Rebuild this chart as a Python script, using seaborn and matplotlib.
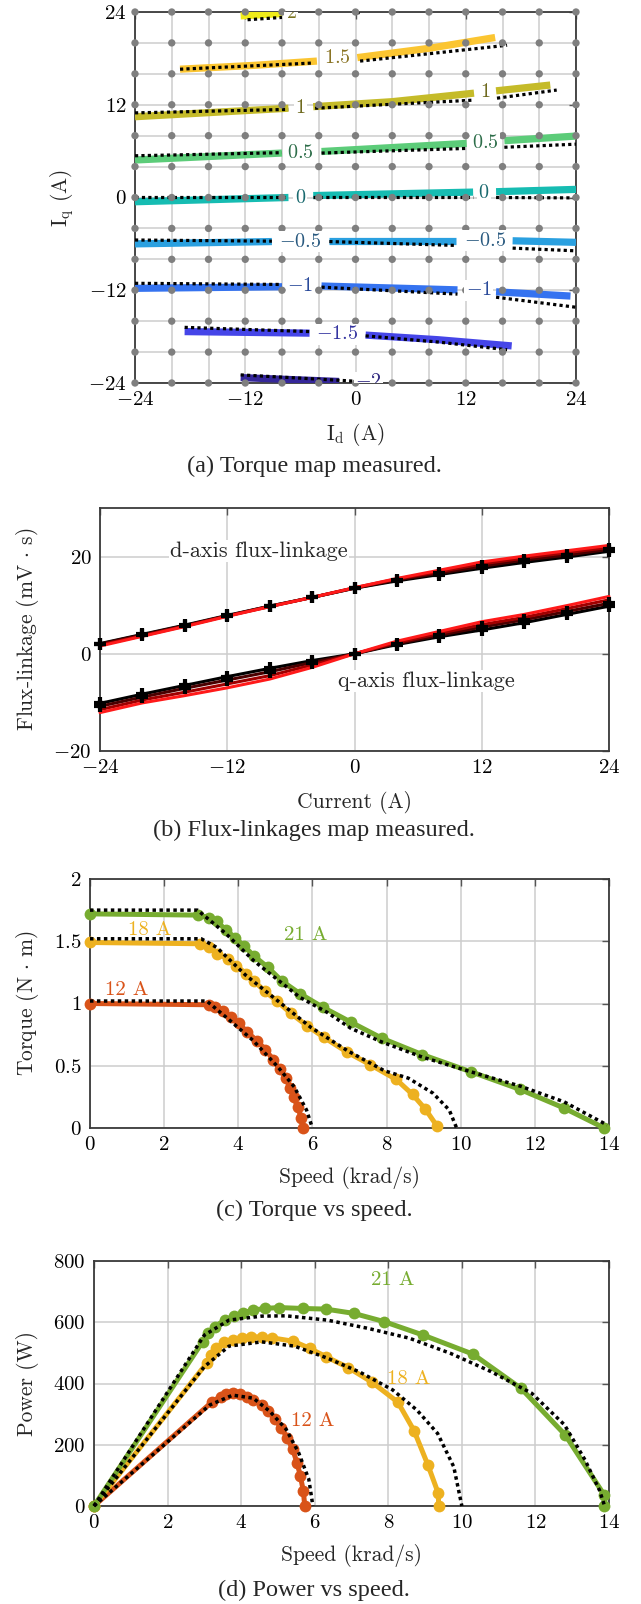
"""
Motor characterisation figure: torque map, flux-linkages, torque and power vs speed.
"""
import numpy as np
import matplotlib
matplotlib.use('Agg')
import matplotlib.pyplot as plt
from matplotlib.ticker import FuncFormatter
import seaborn as sns

# ---------------- (a) torque map: contour segments (Id, Iq) in A ----------------
grid_currents = [-24, -20, -16, -12, -8, -4, 0, 4, 8, 12, 16, 20, 24]

lvl_2_meas = [[(-12.5, 23.5), (-8.0, 23.8)]]
lvl_2_model = [[(-11.75, 23.0), (-8.0, 23.3)], [(0.1, 23.85), (0.5, 23.95)]]
lvl_2_text = [(-7.0, 23.9)]

lvl_15_meas = [[(-19.1, 16.6), (-11.0, 17.1), (-4.2, 17.65)],
               [(0.2, 18.1), (8.0, 19.3), (15.2, 20.7)]]
lvl_15_model = [[(-19.1, 16.6), (-4.6, 17.4)], [(0.5, 17.65), (8.0, 18.6), (16.5, 19.7)]]
lvl_15_text = [(-2.0, 18.0)]

lvl_1_meas = [[(-24, 10.45), (-7.3, 11.55)], [(-4.6, 11.75), (4.0, 12.4), (12.9, 13.5)],
              [(15.3, 13.8), (21.2, 14.55)]]
lvl_1_model = [[(-24, 10.95), (-7.3, 11.4)], [(-4.4, 11.55), (12.9, 12.6)],
               [(15.4, 12.85), (21.9, 13.9)]]
lvl_1_text = [(-6.0, 11.6), (14.1, 13.6)]

lvl_05_meas = [[(-24, 4.85), (-8.0, 5.75)], [(-3.7, 5.95), (12.1, 7.0)], [(16.2, 7.35), (24, 7.95)]]
lvl_05_model = [[(-24, 5.4), (-8.0, 5.8)], [(-3.7, 5.75), (12.1, 6.35)], [(16.2, 6.5), (24, 6.9)]]
lvl_05_text = [(-6.0, 5.7), (14.1, 7.1)]

lvl_0_meas = [[(-24, -0.55), (-7.3, 0.0)], [(-4.6, 0.25), (12.8, 0.7)], [(15.3, 0.75), (24, 1.05)]]
lvl_0_model = [[(-24, 0.05), (-7.3, 0.05)], [(-4.6, 0.05), (12.8, 0.05)], [(15.3, 0.0), (24, -0.05)]]
lvl_0_text = [(-6.0, -0.1), (14.0, 0.6)]

lvl_m05_meas = [[(-24, -6.0), (-9.1, -5.7)], [(-2.85, -5.6), (10.9, -5.6)], [(17.1, -5.6), (24, -5.8)]]
lvl_m05_model = [[(-24, -5.5), (-9.1, -5.65)], [(-2.85, -5.7), (10.9, -6.2)], [(17.1, -6.55), (24, -6.9)]]
lvl_m05_text = [(-6.0, -5.7), (14.1, -5.6)]

lvl_m1_meas = [[(-24, -11.75), (-8.0, -11.55)], [(-3.7, -11.45), (11.1, -11.95)],
               [(15.3, -12.2), (23.4, -12.75)]]
lvl_m1_model = [[(-24, -11.1), (-8.0, -11.25)], [(-3.7, -11.6), (11.1, -12.5)],
                [(15.3, -12.9), (24, -14.2)]]
lvl_m1_text = [(-6.0, -11.4), (13.4, -12.0)]

lvl_m15_meas = [[(-18.6, -17.35), (-5.0, -17.55)], [(1.1, -17.8), (9.0, -18.4), (17.0, -19.2)]]
lvl_m15_model = [[(-18.6, -16.8), (-5.0, -17.35)], [(1.1, -17.9), (9.0, -18.7), (16.5, -19.7)]]
lvl_m15_text = [(-2.0, -17.7)]

lvl_m2_meas = [[(-12.5, -23.3), (-1.8, -23.8)]]
lvl_m2_model = [[(-12.5, -22.95), (0.5, -23.8)]]
lvl_m2_text = [(1.4, -23.9)]

level_labels = ['$2$', '$1.5$', '$1$', '$0.5$', '$0$', '$-0.5$', '$-1$', '$-1.5$', '$-2$']
level_colors = ['#f0ec1a', '#fbc531', '#c5bb29', '#5ccc79', '#16bcb2',
                '#2aa0e0', '#3573f0', '#4545e8', '#35279a']
label_colors = ['#7a7420', '#8a7424', '#6f6a1f', '#2e6e4a', '#1a6a6f',
                '#2a5a80', '#2a4a9a', '#3535a0', '#302880']

# ---------------- (b) flux-linkages (mV s) vs current ----------------
current_b = [-24, -20, -16, -12, -8, -4, 0, 4, 8, 12, 16, 20, 24]
d_black = [2.1, 4.0, 5.9, 7.9, 9.8, 11.6, 13.5, 15.0, 16.3, 17.6, 18.8, 19.9, 21.1]
d_dark = [2.0, 3.9, 5.8, 7.8, 9.8, 11.6, 13.5, 15.2, 16.6, 18.0, 19.3, 20.3, 21.5]
d_mid = [1.8, 3.7, 5.7, 7.8, 9.7, 11.6, 13.6, 15.4, 16.9, 18.5, 19.7, 20.8, 21.9]
d_red = [1.6, 3.6, 5.6, 7.7, 9.7, 11.6, 13.6, 15.5, 17.2, 18.9, 20.1, 21.2, 22.3]
q_black = [-10.2, -8.3, -6.5, -4.7, -3.0, -1.4, 0.0, 1.9, 3.5, 4.9, 6.4, 8.1, 9.8]
q_dark = [-10.8, -8.9, -7.1, -5.4, -3.7, -1.8, 0.0, 2.1, 3.8, 5.5, 7.0, 8.7, 10.4]
q_mid = [-11.5, -9.5, -7.9, -6.2, -4.5, -2.3, 0.0, 2.3, 4.2, 6.0, 7.5, 9.3, 11.1]
q_red = [-12.1, -10.1, -8.6, -7.0, -5.2, -2.8, 0.0, 2.6, 4.6, 6.6, 8.1, 9.9, 11.8]
family_colors = ['#000000', '#4a0000', '#a00000', '#ff1a1a']

# ---------------- (c) torque (N m) vs speed (krad/s) ----------------
spd_t12 = [0, 3.20, 3.37, 3.58, 3.80, 4.02, 4.24, 4.51, 4.73, 4.94, 5.12, 5.28, 5.40, 5.49, 5.60, 5.70, 5.75]
trq_12 = [1.0, 0.99, 0.97, 0.94, 0.89, 0.84, 0.77, 0.70, 0.63, 0.55, 0.47, 0.40, 0.32, 0.25, 0.17, 0.08, 0.0]
spd_t18 = [0, 2.98, 3.20, 3.42, 3.72, 3.95, 4.22, 4.43, 4.71, 5.04, 5.42, 5.86, 6.30, 6.93, 7.55, 8.26, 8.70, 9.05, 9.35]
trq_18 = [1.49, 1.48, 1.45, 1.40, 1.36, 1.30, 1.24, 1.18, 1.10, 1.02, 0.92, 0.82, 0.73, 0.61, 0.51, 0.39, 0.27, 0.15, 0.02]
spd_t21 = [0, 2.92, 3.20, 3.42, 3.67, 3.91, 4.16, 4.43, 4.80, 5.18, 5.66, 6.28, 7.04, 7.88, 8.96, 10.29, 11.60, 12.79, 13.87]
trq_21 = [1.72, 1.71, 1.69, 1.66, 1.59, 1.53, 1.46, 1.38, 1.29, 1.18, 1.08, 0.97, 0.85, 0.72, 0.59, 0.45, 0.31, 0.16, 0.0]

mspd_t12 = [0, 3.15, 3.75, 4.41, 5.07, 5.51, 5.84, 6.0]
mtrq_12 = [1.02, 1.02, 0.87, 0.70, 0.49, 0.33, 0.145, 0.0]
mspd_t18 = [0, 3.0, 3.42, 4.19, 5.07, 5.95, 6.95, 7.94, 8.59, 9.25, 9.69, 9.89]
mtrq_18 = [1.52, 1.52, 1.45, 1.23, 1.02, 0.81, 0.62, 0.46, 0.40, 0.28, 0.145, 0.0]
mspd_t21 = [0, 2.9, 3.67, 4.43, 5.66, 6.39, 7.04, 7.88, 8.96, 10.29, 11.6, 12.79, 13.95]
mtrq_21 = [1.75, 1.75, 1.56, 1.34, 1.05, 0.93, 0.80, 0.69, 0.57, 0.45, 0.337, 0.21, 0.024]

# ---------------- (d) power (W) vs speed (krad/s) ----------------
spd_p12 = [0, 3.22, 3.44, 3.60, 3.77, 3.98, 4.17, 4.33, 4.56, 4.73, 4.91, 5.09, 5.25, 5.40, 5.52, 5.61, 5.69, 5.73]
pwr_12 = [0, 341, 357, 366, 368, 366, 357, 346, 330, 309, 283, 256, 223, 185, 141, 98, 49, 0]
spd_p18 = [0, 3.06, 3.17, 3.32, 3.54, 3.77, 4.03, 4.27, 4.56, 4.84, 5.42, 5.86, 6.30, 6.91, 7.56, 8.26, 8.70, 9.08, 9.36, 9.37]
pwr_18 = [0, 466, 493, 515, 534, 543, 549, 552, 552, 549, 538, 515, 488, 452, 404, 339, 246, 133, 41, 0]
spd_p21 = [0, 2.95, 3.11, 3.28, 3.56, 3.81, 4.06, 4.33, 4.65, 5.02, 5.67, 6.30, 7.06, 7.89, 8.95, 10.30, 11.61, 12.81, 13.87, 13.87]
pwr_21 = [0, 536, 564, 586, 607, 620, 631, 640, 645, 648, 645, 643, 629, 602, 558, 496, 384, 232, 36, 0]

mspd_p12 = [0, 3.15, 3.77, 4.33, 4.78, 5.22, 5.56, 5.84, 5.95]
mpwr_12 = [0, 330, 362, 352, 309, 251, 175, 87, 0]
mspd_p18 = [0, 3.0, 3.67, 4.56, 5.45, 6.34, 7.23, 8.12, 8.78, 9.34, 9.78, 10.0]
mpwr_18 = [0, 455, 522, 536, 522, 483, 437, 379, 313, 237, 128, 0]
mspd_p21 = [0, 3.0, 3.67, 4.56, 5.22, 6.34, 7.45, 8.57, 9.68, 10.79, 11.90, 12.79, 13.35, 13.74, 13.88]
mpwr_21 = [0, 558, 607, 620, 621, 607, 580, 548, 499, 439, 368, 265, 150, 52, 0]

c12, c18, c21 = '#D95319', '#EDB120', '#77AC30'

# ---------------- style ----------------
sns.set_theme(style='white')
plt.rcParams['font.family'] = ['cmr10', 'Liberation Serif', 'DejaVu Serif']
plt.rcParams['mathtext.fontset'] = 'cm'
plt.rcParams['axes.formatter.use_mathtext'] = True
plt.rcParams['axes.unicode_minus'] = True

TICK = 15
LAB = 15.5
DOT = (0, (1, 1))
plain_fmt = FuncFormatter(lambda v, pos: '$%g$' % v)


def style_axes(ax):
    for s in ax.spines.values():
        s.set_color('#3a3a3a')
        s.set_linewidth(1.3)
    ax.tick_params(direction='in', length=5, width=1, colors='#555555',
                   labelcolor='black', labelsize=TICK, top=True, right=True, pad=6)
    ax.grid(True, which='major', color='#cdcdcd', lw=1.1)
    ax.set_axisbelow(True)


fig = plt.figure(figsize=(6.41, 16.04), dpi=100)


def axes_px(x0, x1, y0, y1):
    W, H = 641.0, 1604.0
    return fig.add_axes([x0 / W, 1 - y1 / H, (x1 - x0) / W, (y1 - y0) / H])


# ---- (a)
ax = axes_px(135, 576, 12, 383)
style_axes(ax)
ax.set_xlim(-24, 24)
ax.set_ylim(-24, 24)
ax.set_xticks([-24, -12, 0, 12, 24])
ax.set_yticks([-24, -12, 0, 12, 24])
ax.set_xticks(grid_currents, minor=True)
ax.set_yticks(grid_currents, minor=True)
ax.tick_params(which='minor', length=0)
ax.grid(True, which='minor', color='#cdcdcd', lw=1.1)

levels = [
    (lvl_2_meas, lvl_2_model, lvl_2_text),
    (lvl_15_meas, lvl_15_model, lvl_15_text),
    (lvl_1_meas, lvl_1_model, lvl_1_text),
    (lvl_05_meas, lvl_05_model, lvl_05_text),
    (lvl_0_meas, lvl_0_model, lvl_0_text),
    (lvl_m05_meas, lvl_m05_model, lvl_m05_text),
    (lvl_m1_meas, lvl_m1_model, lvl_m1_text),
    (lvl_m15_meas, lvl_m15_model, lvl_m15_text),
    (lvl_m2_meas, lvl_m2_model, lvl_m2_text),
]
for i, (meas, model, texts) in enumerate(levels):
    for seg in meas:
        xs, ys = zip(*seg)
        ax.plot(xs, ys, color=level_colors[i], lw=5.2, solid_capstyle='butt', zorder=3)
    for seg in model:
        xs, ys = zip(*seg)
        ax.plot(xs, ys, color='black', lw=2.3, ls=DOT, zorder=4)
    for (tx, ty) in texts:
        ax.text(tx, ty, level_labels[i], color=label_colors[i], fontsize=14.5,
                ha='center', va='center', zorder=7, clip_on=True,
                bbox=dict(fc='white', ec='none', pad=1.0))

gx, gy = np.meshgrid(grid_currents, grid_currents)
sns.scatterplot(x=gx.ravel(), y=gy.ravel(), ax=ax, color='#7f7f7f', s=28,
                edgecolor='none', zorder=5, clip_on=False, legend=False)
ax.set_xlabel(r'$\mathrm{I_d}$ (A)', fontsize=LAB)
ax.set_ylabel(r'$\mathrm{I_q}$ (A)', fontsize=LAB)
ax.xaxis.set_label_coords(0.5, -0.1375)
ax.xaxis.label.set_va('center')
ax.yaxis.set_label_coords(-0.1655, 0.5)
ax.yaxis.label.set_va('center')

# ---- (b)
ax = axes_px(100, 609, 508, 751)
style_axes(ax)
ax.set_xlim(-24, 24)
ax.set_ylim(-20, 30)
ax.set_xticks([-24, -12, 0, 12, 24])
ax.set_yticks([-20, 0, 20])
for curves in ([d_black, d_dark, d_mid, d_red], [q_black, q_dark, q_mid, q_red]):
    for vals, col in zip(curves, family_colors):
        sns.lineplot(x=current_b, y=vals, ax=ax, color=col, lw=2.2, sort=False,
                     estimator=None, zorder=3, clip_on=False)
    for vals in curves[:2]:
        ax.plot(current_b, vals, ls='none', marker='+', ms=8, mew=3.0,
                color='black', zorder=4, clip_on=False)
ax.text(-9.0, 21.1, 'd-axis flux-linkage', fontsize=16, ha='center', va='center',
        zorder=6, bbox=dict(fc='white', ec='none', pad=1.0))
ax.text(6.75, -5.6, 'q-axis flux-linkage', fontsize=16, ha='center', va='center',
        zorder=6, bbox=dict(fc='white', ec='none', pad=1.0))
ax.set_xlabel('Current (A)', fontsize=LAB)
ax.set_ylabel(r'Flux-linkage (mV $\cdot$ s)', fontsize=LAB)
ax.xaxis.set_label_coords(0.5, -0.21)
ax.xaxis.label.set_va('center')
ax.yaxis.set_label_coords(-0.1434, 0.5)
ax.yaxis.label.set_va('center')

# ---- (c)
ax = axes_px(90, 609, 879, 1128)
style_axes(ax)
ax.set_xlim(0, 14)
ax.set_ylim(0, 2)
ax.set_xticks(range(0, 15, 2))
ax.set_yticks([0, 0.5, 1, 1.5, 2])
ax.yaxis.set_major_formatter(plain_fmt)
for sx, sy, col in ((spd_t12, trq_12, c12), (spd_t18, trq_18, c18), (spd_t21, trq_21, c21)):
    sns.lineplot(x=sx, y=sy, ax=ax, color=col, lw=3.6, marker='o', markersize=8.5,
                 markeredgewidth=0, sort=False, estimator=None, zorder=3, clip_on=False)
for sx, sy in ((mspd_t12, mtrq_12), (mspd_t18, mtrq_18), (mspd_t21, mtrq_21)):
    ax.plot(sx, sy, color='black', lw=2.5, ls=DOT, zorder=4, clip_on=False)
ax.text(5.82, 1.55, '21 A', color=c21, fontsize=15, ha='center', va='center')
ax.text(1.60, 1.59, '18 A', color=c18, fontsize=15, ha='center', va='center')
ax.text(0.98, 1.11, '12 A', color=c12, fontsize=15, ha='center', va='center')
ax.set_xlabel('Speed (krad/s)', fontsize=LAB)
ax.set_ylabel(r'Torque (N $\cdot$ m)', fontsize=LAB)
ax.xaxis.set_label_coords(0.5, -0.2)
ax.xaxis.label.set_va('center')
ax.yaxis.set_label_coords(-0.121, 0.5)
ax.yaxis.label.set_va('center')

# ---- (d)
ax = axes_px(94, 609, 1261, 1506)
style_axes(ax)
ax.set_xlim(0, 14)
ax.set_ylim(0, 800)
ax.set_xticks(range(0, 15, 2))
ax.set_yticks(range(0, 801, 200))
for sx, sy, col in ((spd_p12, pwr_12, c12), (spd_p18, pwr_18, c18), (spd_p21, pwr_21, c21)):
    sns.lineplot(x=sx, y=sy, ax=ax, color=col, lw=3.6, marker='o', markersize=8.5,
                 markeredgewidth=0, sort=False, estimator=None, zorder=3, clip_on=False)
for sx, sy in ((mspd_p12, mpwr_12), (mspd_p18, mpwr_18), (mspd_p21, mpwr_21)):
    ax.plot(sx, sy, color='black', lw=2.5, ls=DOT, zorder=4, clip_on=False)
ax.text(8.11, 738, '21 A', color=c21, fontsize=15, ha='center', va='center')
ax.text(8.56, 414, '18 A', color=c18, fontsize=15, ha='center', va='center')
ax.text(5.95, 278, '12 A', color=c12, fontsize=15, ha='center', va='center')
ax.set_xlabel('Speed (krad/s)', fontsize=LAB)
ax.set_ylabel('Power (W)', fontsize=LAB)
ax.xaxis.set_label_coords(0.5, -0.204)
ax.xaxis.label.set_va('center')
ax.yaxis.set_label_coords(-0.130, 0.5)
ax.yaxis.label.set_va('center')

# ---- captions
captions = ['(a) Torque map measured.', '(b) Flux-linkages map measured.',
            '(c) Torque vs speed.', '(d) Power vs speed.']
caption_y = [466, 830, 1210, 1590]
for txt, yy in zip(captions, caption_y):
    fig.text(314 / 641, 1 - yy / 1604, txt, fontsize=17.5, ha='center', va='center',
             family='Liberation Serif')

fig.savefig('out.png', dpi=100)
plt.close(fig)
